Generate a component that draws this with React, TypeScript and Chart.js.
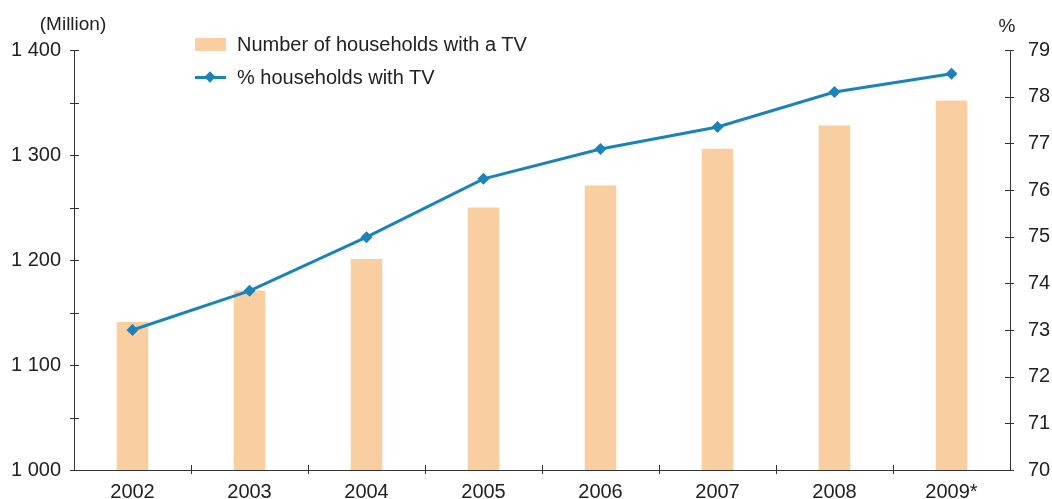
import React, { useEffect, useRef } from "react";
import { Chart, registerables } from "chart.js";

Chart.register(...registerables);

const categories = ["2002", "2003", "2004", "2005", "2006", "2007", "2008", "2009*"];
const households = [1141, 1171, 1201, 1250, 1271, 1306, 1328, 1352];
const pctHouseholds = [73.0, 73.84, 74.99, 76.24, 76.88, 77.35, 78.1, 78.49];
const barLabel = "Number of households with a TV";
const lineLabel = "% households with TV";
const leftUnit = "(Million)";
const rightUnit = "%";

const BAR_COLOR = "#F9CFA2";
const LINE_COLOR = "#1B83B9";
const AXIS_COLOR = "#333333";
const TEXT_COLOR = "#222222";
const FONT = "'Liberation Sans', Arial, sans-serif";

const fmtThousands = (v: number) => {
  const s = String(Math.round(v));
  return s.length > 3 ? s.slice(0, s.length - 3) + " " + s.slice(s.length - 3) : s;
};

const tickPlugin = {
  id: "crossTicks",
  afterDraw(chart: any) {
    const ctx = chart.ctx;
    const area = chart.chartArea;
    const yl = chart.scales.y;
    const yr = chart.scales.y1;
    const x = chart.scales.x;
    ctx.save();
    ctx.strokeStyle = AXIS_COLOR;
    ctx.lineWidth = 1;
    ctx.beginPath();
    for (let v = 1000; v <= 1400; v += 50) {
      const py = Math.round(yl.getPixelForValue(v)) + 0.5;
      ctx.moveTo(area.left - 4, py);
      ctx.lineTo(area.left + 5, py);
    }
    for (let v = 70; v <= 79; v += 1) {
      const py = Math.round(yr.getPixelForValue(v)) + 0.5;
      ctx.moveTo(area.right - 5, py);
      ctx.lineTo(area.right + 4, py);
    }
    for (let i = 1; i < categories.length; i++) {
      const px = Math.round((x.getPixelForValue(i - 1) + x.getPixelForValue(i)) / 2) + 0.5;
      ctx.moveTo(px, area.bottom - 5);
      ctx.lineTo(px, area.bottom + 4);
    }
    ctx.stroke();
    ctx.fillStyle = TEXT_COLOR;
    ctx.font = `19px ${FONT}`;
    ctx.textBaseline = "middle";
    ctx.textAlign = "center";
    ctx.fillText(leftUnit, 73, 25);
    ctx.fillText(rightUnit, area.right - 3, 27);
    ctx.restore();
  },
};

export default function App() {
  const ref = useRef<HTMLCanvasElement | null>(null);
  useEffect(() => {
    if (!ref.current) return;
    const chart = new Chart(ref.current, {
      type: "bar",
      data: {
        labels: categories,
        datasets: [
          {
            type: "line",
            label: lineLabel,
            data: pctHouseholds,
            yAxisID: "y1",
            borderColor: LINE_COLOR,
            backgroundColor: LINE_COLOR,
            borderWidth: 3,
            pointStyle: "rectRot",
            pointRadius: 6,
            pointBackgroundColor: LINE_COLOR,
            pointBorderWidth: 0,
            tension: 0,
            order: 0,
          } as any,
          {
            type: "bar",
            label: barLabel,
            data: households,
            yAxisID: "y",
            backgroundColor: BAR_COLOR,
            barPercentage: 0.27,
            categoryPercentage: 1,
            order: 1,
          } as any,
        ],
      },
      options: {
        animation: false,
        responsive: false,
        maintainAspectRatio: false,
        layout: { padding: { top: 50, left: 0, right: 0, bottom: 0 } },
        plugins: { legend: { display: false }, tooltip: { enabled: false } },
        scales: {
          x: {
            grid: { display: false },
            border: { display: true, color: AXIS_COLOR },
            ticks: { color: TEXT_COLOR, font: { size: 20, family: FONT }, padding: 2, maxRotation: 0 },
            afterFit: (s: any) => { s.height = 29; },
          },
          y: {
            position: "left",
            min: 1000,
            max: 1400,
            grid: { display: false },
            border: { display: true, color: AXIS_COLOR },
            ticks: {
              stepSize: 100,
              color: TEXT_COLOR,
              font: { size: 20, family: FONT },
              padding: 5,
              callback: (v: any) => fmtThousands(Number(v)),
            },
            afterFit: (s: any) => { s.width = 74; },
          },
          y1: {
            position: "right",
            min: 70,
            max: 79,
            grid: { display: false },
            border: { display: true, color: AXIS_COLOR },
            ticks: { stepSize: 1, color: TEXT_COLOR, font: { size: 20, family: FONT }, padding: 10 },
            afterFit: (s: any) => { s.width = 42; },
          },
        },
      },
      plugins: [tickPlugin],
    });
    return () => chart.destroy();
  }, []);

  return (
    <div style={{ position: "fixed", left: 0, top: 0, width: 1052, height: 499, background: "#fff" }}>
      <canvas ref={ref} width={1052} height={499} style={{ display: "block" }} />
      <div style={{ position: "absolute", left: 195, top: 31, fontFamily: FONT, fontSize: 20, color: TEXT_COLOR }}>
        <div style={{ display: "flex", alignItems: "center", height: 26 }}>
          <span style={{ display: "inline-block", width: 31, height: 13, background: BAR_COLOR, marginRight: 11 }} />
          <span>{barLabel}</span>
        </div>
        <div style={{ display: "flex", alignItems: "center", height: 26, marginTop: 7 }}>
          <span style={{ position: "relative", display: "inline-block", width: 31, height: 13, marginRight: 11 }}>
            <span style={{ position: "absolute", left: 0, top: 5, width: 31, height: 3, background: LINE_COLOR }} />
            <span style={{ position: "absolute", left: 11, top: 2, width: 8, height: 8, background: LINE_COLOR, transform: "rotate(45deg)" }} />
          </span>
          <span>{lineLabel}</span>
        </div>
      </div>
    </div>
  );
}
